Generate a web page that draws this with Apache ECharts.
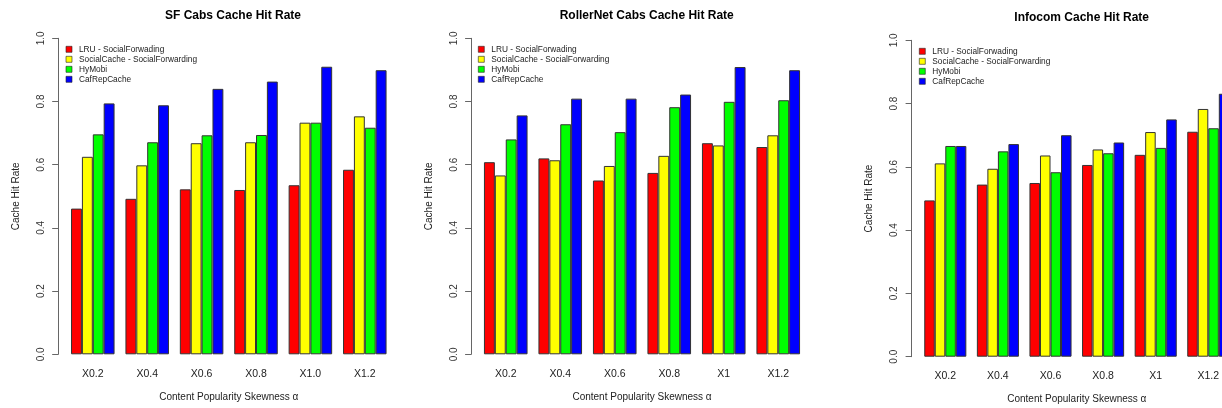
<!DOCTYPE html>
<html>
<head>
<meta charset="utf-8">
<script src="https://cdn.jsdelivr.net/npm/echarts@6/dist/echarts.min.js"></script>
<style>html,body{margin:0;padding:0;background:#fff}#c{width:1222px;height:408px}</style>
</head>
<body>
<div id="c"></div>
<script>
// ---- data ----
var seriesNames = ['LRU - SocialForwading', 'SocialCache - SocialForwarding', 'HyMobi', 'CafRepCache'];
var colors = ['#ff0000', '#ffff00', '#00ff00', '#0000ff'];
var titles = ['SF Cabs Cache Hit Rate', 'RollerNet Cabs Cache Hit Rate', 'Infocom Cache Hit Rate'];
var catsSF = ['X0.2', 'X0.4', 'X0.6', 'X0.8', 'X1.0', 'X1.2'];
var catsRN = ['X0.2', 'X0.4', 'X0.6', 'X0.8', 'X1', 'X1.2'];
var catsIN = ['X0.2', 'X0.4', 'X0.6', 'X0.8', 'X1', 'X1.2'];
var yTicks = [0, 0.2, 0.4, 0.6, 0.8, 1.0];

var sfLRU    = [0.461, 0.492, 0.522, 0.520, 0.535, 0.584];
var sfSocial = [0.625, 0.598, 0.668, 0.671, 0.733, 0.753];
var sfHyMobi = [0.696, 0.671, 0.693, 0.694, 0.733, 0.717];
var sfCafRep = [0.794, 0.788, 0.840, 0.863, 0.910, 0.899];

var rnLRU    = [0.608, 0.620, 0.550, 0.574, 0.668, 0.656];
var rnSocial = [0.566, 0.614, 0.596, 0.628, 0.661, 0.693];
var rnHyMobi = [0.680, 0.728, 0.703, 0.782, 0.799, 0.804];
var rnCafRep = [0.756, 0.809, 0.809, 0.822, 0.909, 0.899];

var inLRU    = [0.494, 0.544, 0.549, 0.606, 0.638, 0.711];
var inSocial = [0.611, 0.594, 0.636, 0.655, 0.710, 0.783];
var inHyMobi = [0.666, 0.649, 0.583, 0.643, 0.660, 0.722];
var inCafRep = [0.666, 0.672, 0.700, 0.677, 0.750, 0.831];

var panels = [
  { cats: catsSF, data: [sfLRU, sfSocial, sfHyMobi, sfCafRep] },
  { cats: catsRN, data: [rnLRU, rnSocial, rnHyMobi, rnCafRep] },
  { cats: catsIN, data: [inLRU, inSocial, inHyMobi, inCafRep] }
];

// ---- layout ----
var FONT = '"Liberation Sans", Arial, sans-serif';
var layout = [
  { left: 65.6, width: 326.4, top: 38.3, height: 316, titleX: 228, titleY: 5, legTop: 44.3, legLeft: 65.7 },
  { left: 478.5, width: 327, top: 38.3, height: 316, titleX: 641.7, titleY: 5, legTop: 44.3, legLeft: 478 },
  { left: 919.0, width: 315.6, top: 40.3, height: 316.4, titleX: 1076.7, titleY: 7, legTop: 46.3, legLeft: 919 }
];

var option = {
  animation: false,
  backgroundColor: '#ffffff',
  title: [], grid: [], xAxis: [], yAxis: [], series: [], legend: []
};

layout.forEach(function (L, p) {
  option.title.push({
    text: titles[p], left: L.titleX, top: L.titleY, textAlign: 'center',
    textStyle: { fontFamily: FONT, fontSize: 12, fontWeight: 'bold', color: '#000' }
  });
  option.grid.push({
    left: L.left, width: L.width, top: L.top, height: L.height,
    containLabel: false, outerBoundsMode: 'none'
  });
  option.xAxis.push({
    type: 'category', gridIndex: p, data: panels[p].cats,
    axisLine: { show: false }, axisTick: { show: false },
    axisLabel: { margin: 14, fontFamily: FONT, fontSize: 10.5, color: '#222' },
    name: 'Content Popularity Skewness \u03b1', nameLocation: 'middle', nameGap: 38,
    nameTextStyle: { fontFamily: FONT, fontSize: 10, color: '#222' }
  });
  option.yAxis.push({
    type: 'value', gridIndex: p, min: 0, max: 1, interval: 0.2, offset: 7.4,
    axisLine: { show: true, lineStyle: { color: '#666', width: 1 } },
    axisTick: { show: true, inside: false, length: 6, lineStyle: { color: '#666' } },
    splitLine: { show: false },
    axisLabel: {
      rotate: 90, margin: 12, fontFamily: FONT, fontSize: 10, color: '#333',
      formatter: function (v) { return v.toFixed(1); }
    },
    name: 'Cache Hit Rate', nameLocation: 'middle', nameRotate: 90, nameGap: 37,
    nameTextStyle: { fontFamily: FONT, fontSize: 10, color: '#222' }
  });
  seriesNames.forEach(function (n, i) {
    option.series.push({
      type: 'bar', name: n, xAxisIndex: p, yAxisIndex: p,
      data: panels[p].data[i],
      barGap: '0%', barCategoryGap: '20%',
      itemStyle: { color: colors[i], borderColor: '#333', borderWidth: 1 },
      emphasis: { disabled: true }
    });
  });
  option.legend.push({
    orient: 'vertical', left: L.legLeft, top: L.legTop, padding: 0,
    itemGap: 0, itemWidth: 6, itemHeight: 6, icon: 'rect',
    data: seriesNames, selectedMode: false,
    itemStyle: { borderColor: '#222', borderWidth: 0.6 },
    textStyle: { fontFamily: FONT, fontSize: 8.3, color: '#222', lineHeight: 10, padding: [0, 0, 0, 2] }
  });
});

var chart = echarts.init(document.getElementById('c'), null, { renderer: 'canvas' });
chart.setOption(option);
</script>
</body>
</html>
